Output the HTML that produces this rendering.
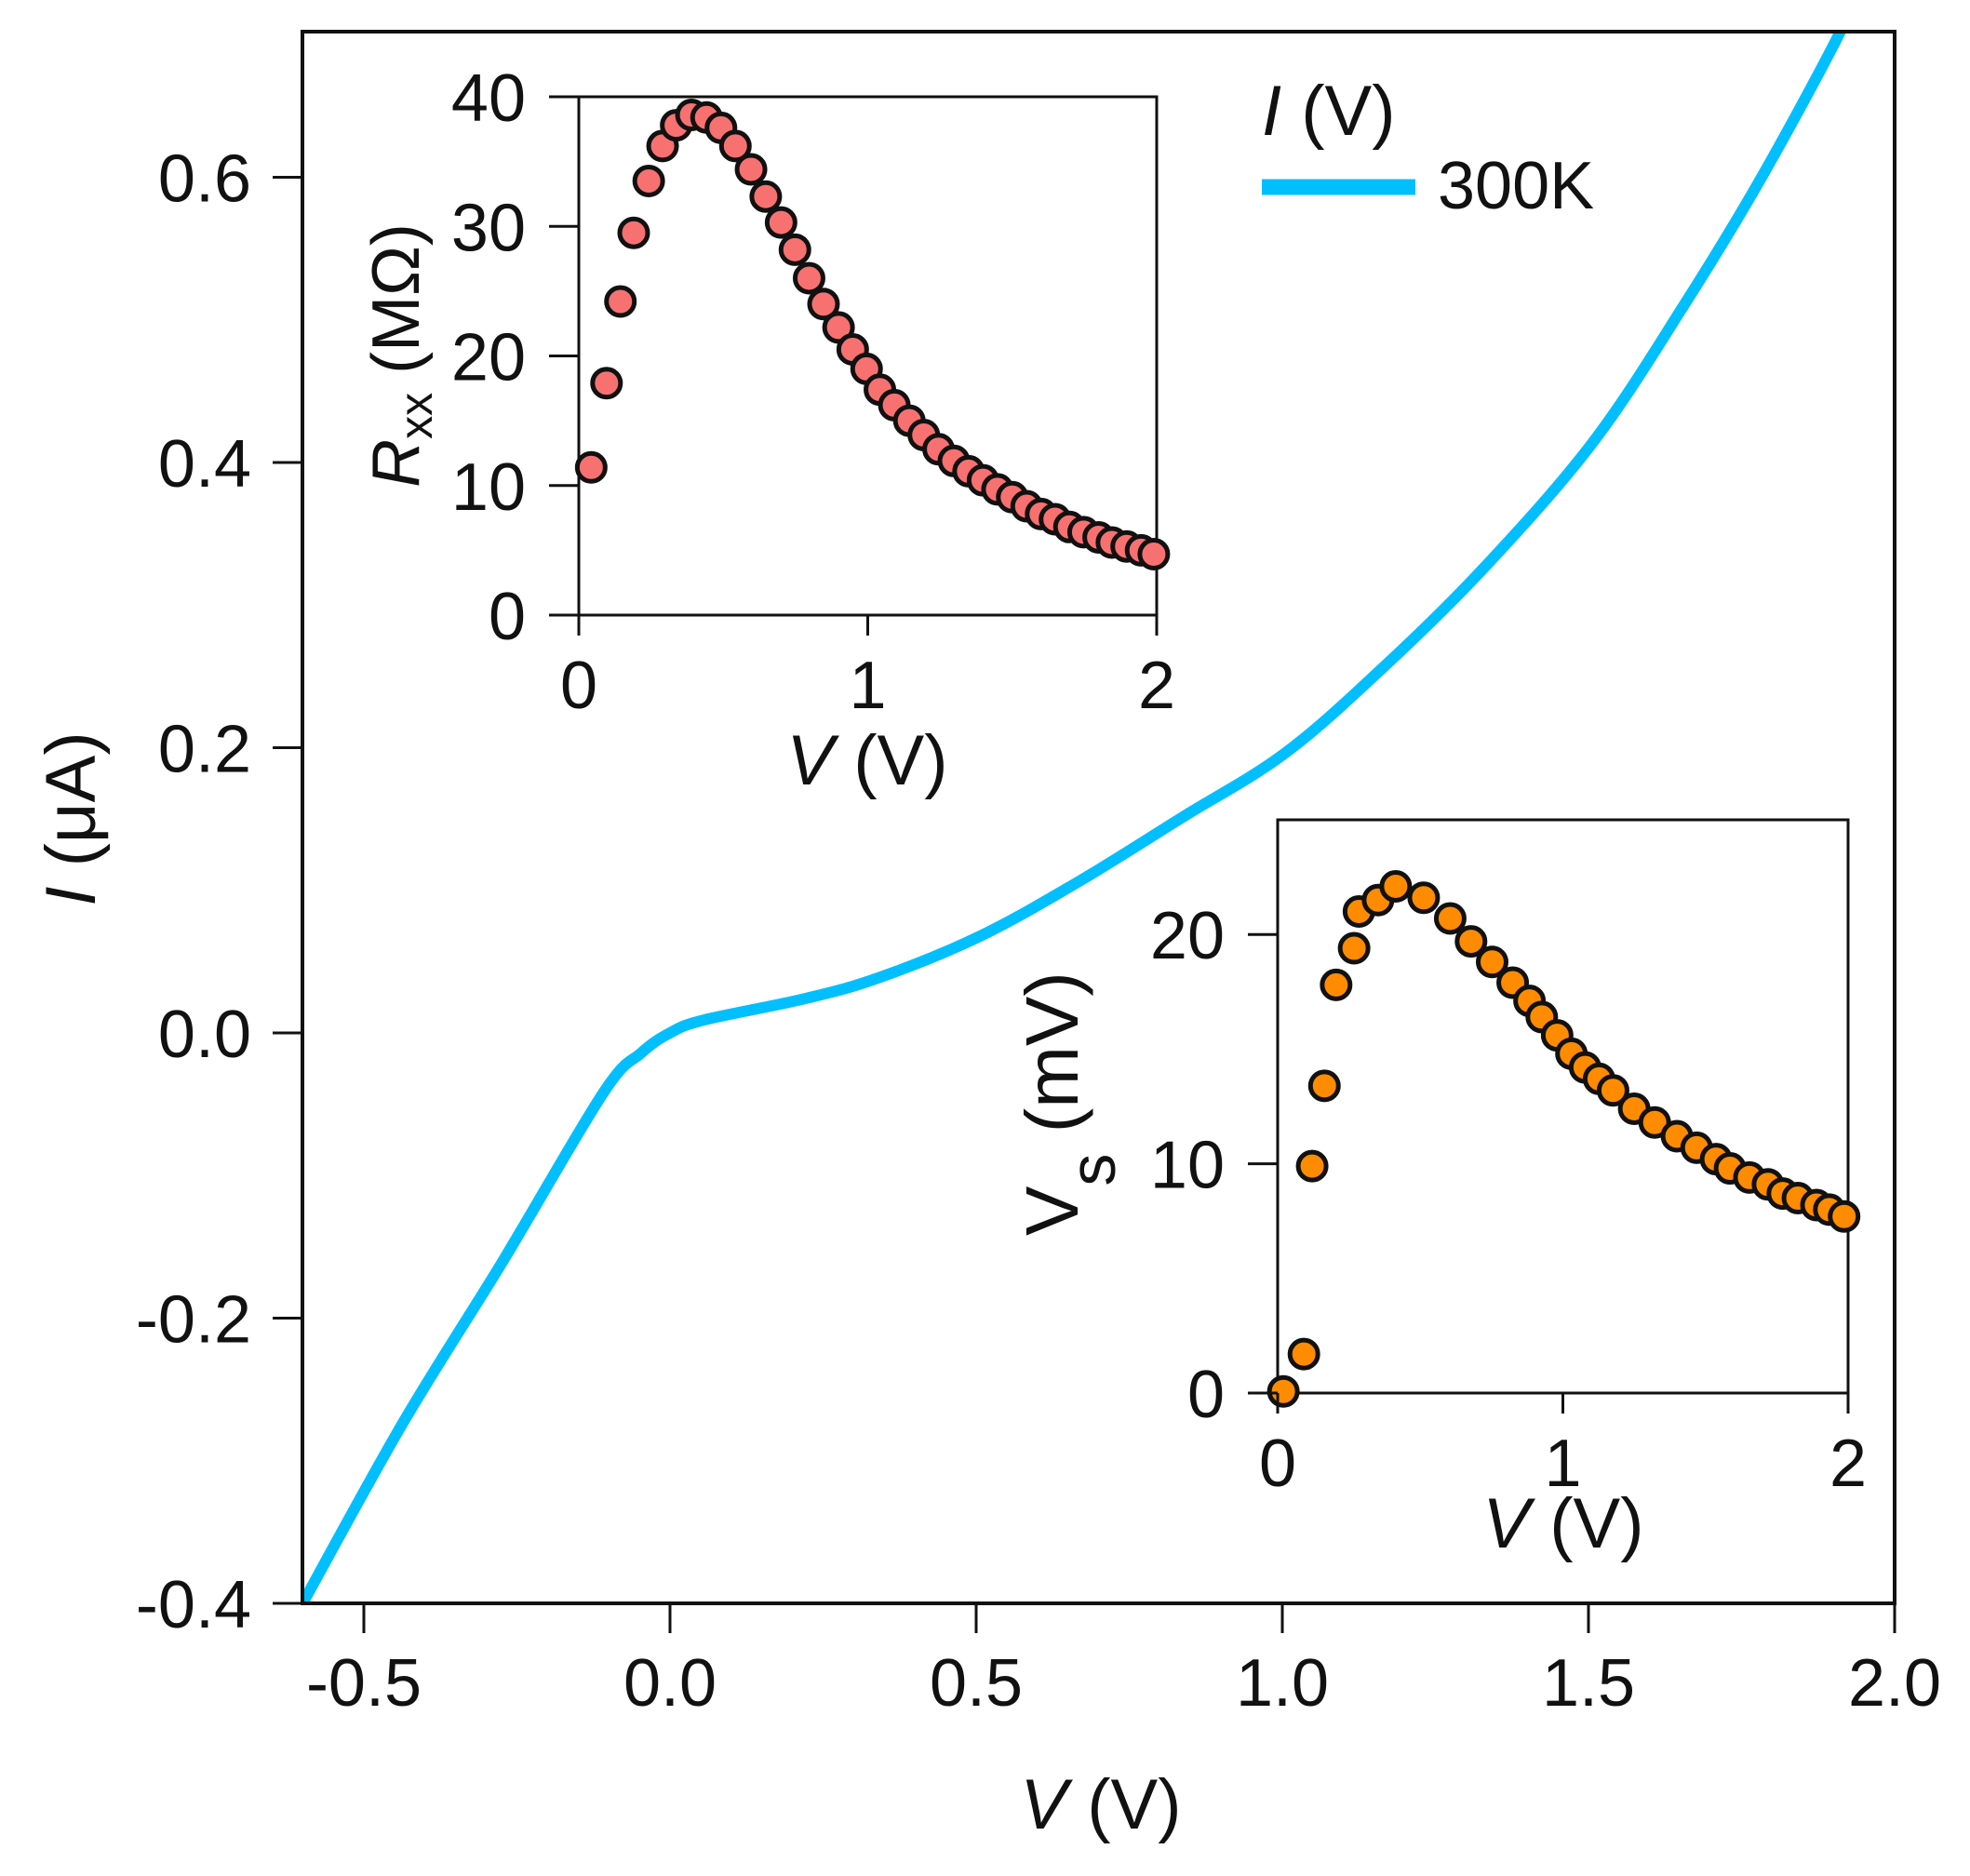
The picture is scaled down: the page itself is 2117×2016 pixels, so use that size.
<!DOCTYPE html>
<html><head><meta charset="utf-8">
<style>
html,body{margin:0;padding:0;background:#fff;}
svg{display:block;font-family:"Liberation Sans",Arial,sans-serif;}
</style></head>
<body>
<svg id="chart" width="2117" height="2016" viewBox="0 0 2117 2016" xmlns="http://www.w3.org/2000/svg">
<defs><clipPath id="mainClip"><rect x="325" y="34" width="1711" height="1689"/></clipPath></defs>
<g id="main"></g>
<g id="inset1"></g>
<g id="inset2"></g>
</svg>
<script>
// Main I(V) curve
const mainV = [-0.6,-0.437,-0.273,-0.109,-0.047,0,0.055,0.22,0.343,0.507,0.671,0.836,1.004,1.164,1.329,1.507,1.657,1.78,1.903,1.95];
const mainI = [-0.4,-0.274,-0.16,-0.042,-0.014,0,0.009,0.024,0.039,0.068,0.107,0.151,0.196,0.256,0.326,0.414,0.511,0.598,0.695,0.74];
const mainXTicks = [-0.5,0.0,0.5,1.0,1.5,2.0];
const mainXTickLabels = ["-0.5","0.0","0.5","1.0","1.5","2.0"];
const mainYTicks = [-0.4,-0.2,0.0,0.2,0.4,0.6];
const mainYTickLabels = ["-0.4","-0.2","0.0","0.2","0.4","0.6"];
// Inset 1: Rxx vs V
const rxxV = [0.043,0.096,0.144,0.19,0.242,0.29,0.337,0.39,0.442,0.492,0.542,0.596,0.647,0.7,0.748,0.797,0.847,0.899,0.948,0.996,1.042,1.092,1.144,1.194,1.245,1.298,1.349,1.399,1.449,1.5,1.55,1.6,1.648,1.698,1.747,1.799,1.845,1.896,1.946,1.99];
const rxxR = [11.4,17.9,24.2,29.5,33.5,36.2,37.8,38.6,38.4,37.6,36.2,34.4,32.3,30.3,28.2,26,24,22.2,20.5,19,17.4,16.2,15,13.9,12.8,11.9,11.1,10.4,9.7,9.1,8.4,7.8,7.4,6.8,6.4,6.0,5.6,5.3,5.0,4.7];
const in1XTicks = [0,1,2];
const in1XTickLabels = ["0","1","2"];
const in1YTicks = [0,10,20,30,40];
const in1YTickLabels = ["0","10","20","30","40"];
// Inset 2: Vs vs V
const vsV = [0.02,0.092,0.121,0.164,0.205,0.268,0.285,0.352,0.414,0.512,0.605,0.678,0.752,0.824,0.883,0.926,0.98,1.03,1.078,1.127,1.176,1.25,1.322,1.4,1.469,1.537,1.586,1.654,1.719,1.771,1.824,1.889,1.934,1.986];
const vsS = [0.07,1.7,9.9,13.4,17.8,19.4,21,21.5,22.1,21.6,20.7,19.7,18.8,17.9,17.1,16.4,15.6,14.8,14.2,13.7,13.2,12.4,11.8,11.2,10.7,10.2,9.8,9.4,9.1,8.7,8.5,8.2,8.0,7.7];
const in2XTicks = [0,1,2];
const in2XTickLabels = ["0","1","2"];
const in2YTicks = [0,10,20];
const in2YTickLabels = ["0","10","20"];

const NS="http://www.w3.org/2000/svg";
function mk(parent,tag,attrs,text){const e=document.createElementNS(NS,tag);for(const k in attrs)e.setAttribute(k,attrs[k]);if(text!==undefined)e.textContent=text;parent.appendChild(e);return e;}

// ---------- main ----------
const gm=document.getElementById('main');
const mx=v=>720+v*658;
const my=v=>1110-v*1532.5;
const P=mainV.map((v,i)=>[mx(v),my(mainI[i])]);
let d='M'+P[0][0].toFixed(1)+','+P[0][1].toFixed(1);
for(let i=0;i<P.length-1;i++){
  const p0=P[Math.max(0,i-1)],p1=P[i],p2=P[i+1],p3=P[Math.min(P.length-1,i+2)];
  const c1=[p1[0]+(p2[0]-p0[0])/6,p1[1]+(p2[1]-p0[1])/6];
  const c2=[p2[0]-(p3[0]-p1[0])/6,p2[1]-(p3[1]-p1[1])/6];
  d+=' C'+c1[0].toFixed(1)+','+c1[1].toFixed(1)+' '+c2[0].toFixed(1)+','+c2[1].toFixed(1)+' '+p2[0].toFixed(1)+','+p2[1].toFixed(1);
}
const curve=mk(gm,'path',{d:d,fill:'none',stroke:'#00BFFF','stroke-width':12,'stroke-linejoin':'round','clip-path':'url(#mainClip)'});


const frame=mk(gm,'rect',{x:325,y:34,width:1711,height:1689,fill:'none',stroke:'#111','stroke-width':4});


mainXTicks.forEach((t,i)=>{
  const x=mx(t);
  const tk=mk(gm,'line',{x1:x,y1:1723,x2:x,y2:1755,stroke:'#111','stroke-width':3});
  
  
  const lb=mk(gm,'text',{x:x,y:1833,'font-size':72,'text-anchor':'middle',fill:'#111'},mainXTickLabels[i]);
  
  
});
mainYTicks.forEach((t,i)=>{
  const y=my(t);
  const tk=mk(gm,'line',{x1:293,y1:y,x2:325,y2:y,stroke:'#111','stroke-width':3});
  
  
  const lb=mk(gm,'text',{x:270,y:y+26,'font-size':72,'text-anchor':'end',fill:'#111'},mainYTickLabels[i]);
  
  
});
const xt=mk(gm,'text',{x:1183,y:1965,'font-size':76,'text-anchor':'middle',fill:'#111'});


xt.innerHTML='<tspan font-style="italic">V</tspan> (V)';
const yt=mk(gm,'text',{x:0,y:0,'font-size':76,'text-anchor':'middle',fill:'#111',transform:'translate(102,880) rotate(-90)'});


yt.innerHTML='<tspan font-style="italic">I</tspan> (μA)';
// legend
const lgT=mk(gm,'text',{x:1356,y:145,'font-size':76,fill:'#111'});


lgT.innerHTML='<tspan font-style="italic">I</tspan> (V)';
const lgL=mk(gm,'line',{x1:1356,y1:201,x2:1521,y2:201,stroke:'#00BFFF','stroke-width':17});


const lgE=mk(gm,'text',{x:1545,y:224,'font-size':72,fill:'#111'},'300K');



// ---------- inset generic ----------
function drawInset(g,L,T,R,B,xmin,xmax,ymin,ymax,xs,ys,fillc,xt,xtl,yt,ytl,prefix){
  const fx=v=>L+(v-xmin)/(xmax-xmin)*(R-L);
  const fy=v=>B-(v-ymin)/(ymax-ymin)*(B-T);
  const bg=mk(g,'rect',{x:L,y:T,width:R-L,height:B-T,fill:'#fff',stroke:'#111','stroke-width':3});
  
  
  xs.forEach((v,i)=>{
    const c=mk(g,'circle',{cx:fx(v),cy:fy(ys[i]),r:15,fill:fillc,stroke:'#111','stroke-width':5});
    
    
  });
  xt.forEach((t,i)=>{
    const x=fx(t);
    const tk=mk(g,'line',{x1:x,y1:B,x2:x,y2:B+22,stroke:'#111','stroke-width':3});
    
    
    const lb=mk(g,'text',{x:x,y:B+100,'font-size':72,'text-anchor':'middle',fill:'#111'},xtl[i]);
    
    
  });
  yt.forEach((t,i)=>{
    const y=fy(t);
    const tk=mk(g,'line',{x1:L-32,y1:y,x2:L,y2:y,stroke:'#111','stroke-width':3});
    
    
    const lb=mk(g,'text',{x:L-57,y:y+26,'font-size':72,'text-anchor':'end',fill:'#111'},ytl[i]);
    
    
  });
}
const g1=document.getElementById('inset1');
drawInset(g1,622,104,1243,661,0,2,0,40,rxxV,rxxR,'#F87171',in1XTicks,in1XTickLabels,in1YTicks,in1YTickLabels,'rxx');
const t1x=mk(g1,'text',{x:932,y:843,'font-size':76,'text-anchor':'middle',fill:'#111'});


t1x.innerHTML='<tspan font-style="italic">V</tspan> (V)';
const t1y=mk(g1,'text',{x:0,y:0,'font-size':72,'text-anchor':'middle',fill:'#111',transform:'translate(450,382) rotate(-90)'});


t1y.innerHTML='<tspan font-style="italic">R</tspan><tspan font-size="50" dy="14">xx</tspan><tspan dy="-14"> (MΩ)</tspan>';

const g2=document.getElementById('inset2');
drawInset(g2,1373,881,1986,1497,0,2,0,25,vsV,vsS,'#FF8C00',in2XTicks,in2XTickLabels,in2YTicks,in2YTickLabels,'vs');
const t2x=mk(g2,'text',{x:1680,y:1663,'font-size':76,'text-anchor':'middle',fill:'#111'});


t2x.innerHTML='<tspan font-style="italic">V</tspan> (V)';
const t2y=mk(g2,'text',{x:0,y:0,'font-size':80,'text-anchor':'middle',fill:'#111',transform:'translate(1158,1186) rotate(-90)'});


t2y.innerHTML='<tspan>V</tspan><tspan dy="40" font-size="70">s</tspan><tspan dy="-40"> (mV)</tspan>';
</script>
</body></html>
